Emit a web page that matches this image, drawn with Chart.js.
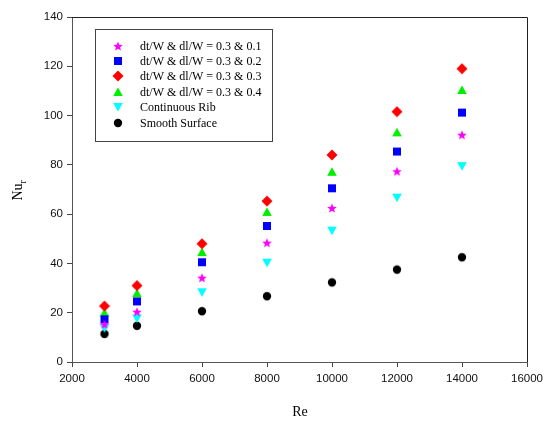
<!DOCTYPE html>
<html>
<head>
<meta charset="utf-8">
<script src="https://cdn.jsdelivr.net/npm/chart.js@4/dist/chart.umd.min.js"></script>
<style>
  html, body { margin: 0; padding: 0; background: #fff; }
  #wrap { width: 544px; height: 421px; }
</style>
</head>
<body>
<div id="wrap"><canvas id="nuChart"></canvas></div>
<script>
// Re values and Nu_r for each surface
const reValues = [3000, 4000, 6000, 8000, 10000, 12000, 14000];
const nu01 = [15.3, 20.4, 34.2, 48.4, 62.5, 77.4, 92.2];
const nu02 = [17.3, 24.6, 40.5, 55.2, 70.5, 85.4, 101.2];
const nu03 = [22.7, 31.0, 48.0, 65.3, 84.0, 101.6, 119.0];
const nu04 = [20.0, 27.9, 44.6, 60.9, 77.2, 93.2, 110.4];
const nuContinuous = [13.7, 17.7, 28.3, 40.3, 53.3, 66.7, 79.5];
const nuSmooth = [11.4, 14.7, 20.6, 26.7, 32.3, 37.5, 42.5];
const seriesLabels = [
    'dt/W & dl/W = 0.3 & 0.1',
    'dt/W & dl/W = 0.3 & 0.2',
    'dt/W & dl/W = 0.3 & 0.3',
    'dt/W & dl/W = 0.3 & 0.4',
    'Continuous Rib',
    'Smooth Surface'
];

// marker bitmaps
function makeMarker(shape, color) {
    const s = 12;
    const c = document.createElement('canvas');
    c.width = s; c.height = s;
    const g = c.getContext('2d');
    g.fillStyle = color;
    g.beginPath();
    const m = s / 2;
    if (shape === 'star') {
        for (let i = 0; i < 10; i++) {
            const r = i % 2 === 0 ? 5 : 2.2;
            const a = -Math.PI / 2 + i * Math.PI / 5;
            g.lineTo(m + r * Math.cos(a), m + 0.5 + r * Math.sin(a));
        }
    } else if (shape === 'square') {
        g.rect(m - 4, m - 4, 8, 8);
    } else if (shape === 'diamond') {
        g.moveTo(m, m - 5.5); g.lineTo(m + 5.5, m); g.lineTo(m, m + 5.5); g.lineTo(m - 5.5, m);
    } else if (shape === 'tri') {
        g.moveTo(m, m - 4.5); g.lineTo(m + 4.8, m + 4); g.lineTo(m - 4.8, m + 4);
    } else if (shape === 'triDown') {
        g.moveTo(m, m + 4.5); g.lineTo(m + 4.8, m - 4); g.lineTo(m - 4.8, m - 4);
    } else {
        g.arc(m, m, 4.2, 0, Math.PI * 2);
    }
    g.closePath();
    g.fill();
    return c;
}

const markers = [
    makeMarker('star', '#ff00ff'),
    makeMarker('square', '#0000ff'),
    makeMarker('diamond', '#ff0000'),
    makeMarker('tri', '#00ee00'),
    makeMarker('triDown', '#00ffff'),
    makeMarker('circle', '#000000')
];
const allSeries = [nu01, nu02, nu03, nu04, nuContinuous, nuSmooth];

const datasets = allSeries.map(function(vals, i) {
    return {
        label: seriesLabels[i],
        data: reValues.map(function(re, j) { return { x: re, y: vals[j] }; }),
        pointStyle: markers[i],
        showLine: false
    };
});

// frame, legend box and axis titles
const extras = {
    id: 'extras',
    afterDraw: function(chart) {
        const ctx = chart.ctx;
        const a = chart.chartArea;
        ctx.save();
        ctx.strokeStyle = '#222';
        ctx.lineWidth = 1;
        ctx.beginPath();
        ctx.moveTo(a.left, a.top + 0.5);
        ctx.lineTo(a.right + 0.5, a.top + 0.5);
        ctx.lineTo(a.right + 0.5, a.bottom);
        ctx.stroke();

        // legend
        ctx.strokeStyle = '#444';
        ctx.strokeRect(95.5, 29.5, 177, 112);
        ctx.font = '12px "Liberation Serif", "Times New Roman", serif';
        ctx.fillStyle = '#000';
        ctx.textBaseline = 'middle';
        const rows = [46, 61, 76, 92, 107, 123];
        rows.forEach(function(y, i) {
            ctx.drawImage(markers[i], 118 - 6, y - 6);
            ctx.fillText(seriesLabels[i], 140, y + 1);
        });

        // axis titles
        ctx.font = '14px "Liberation Serif", "Times New Roman", serif';
        ctx.textAlign = 'center';
        ctx.fillText('Re', 300, 412);
        ctx.translate(18, 190);
        ctx.rotate(-Math.PI / 2);
        ctx.textAlign = 'left';
        const w = ctx.measureText('Nu').width;
        ctx.fillText('Nu', -(w + 4) / 2, 0);
        ctx.font = '10px "Liberation Serif", "Times New Roman", serif';
        ctx.fillText('r', -(w + 4) / 2 + w, 5);
        ctx.restore();
    }
};

const tickFont = { family: '"Liberation Sans", Arial, sans-serif', size: 11.5 };

new Chart(document.getElementById('nuChart'), {
    type: 'scatter',
    data: { datasets: datasets },
    options: {
        responsive: true,
        maintainAspectRatio: false,
        animation: false,
        layout: { padding: { top: 17, right: 0, left: 0, bottom: 0 } },
        plugins: {
            legend: { display: false },
            tooltip: { enabled: false }
        },
        scales: {
            x: {
                type: 'linear',
                min: 2000,
                max: 16000,
                ticks: {
                    stepSize: 2000, color: '#111', font: tickFont, padding: 5, maxRotation: 0,
                    callback: function(v) { return String(v); }
                },
                grid: { drawOnChartArea: false, drawTicks: true, tickLength: 5, color: '#444' },
                border: { color: '#555', width: 1 },
                afterFit: function(s) { s.height = 59; s.paddingRight = 17; s.paddingLeft = 0; }
            },
            y: {
                min: 0,
                max: 140,
                ticks: { stepSize: 20, color: '#111', font: tickFont, padding: 4 },
                grid: { drawOnChartArea: false, drawTicks: true, tickLength: 5, color: '#444' },
                border: { color: '#555', width: 1 },
                afterFit: function(s) { s.width = 72; s.paddingTop = 0; s.paddingBottom = 0; }
            }
        }
    },
    plugins: [extras]
});
</script>
</body>
</html>
